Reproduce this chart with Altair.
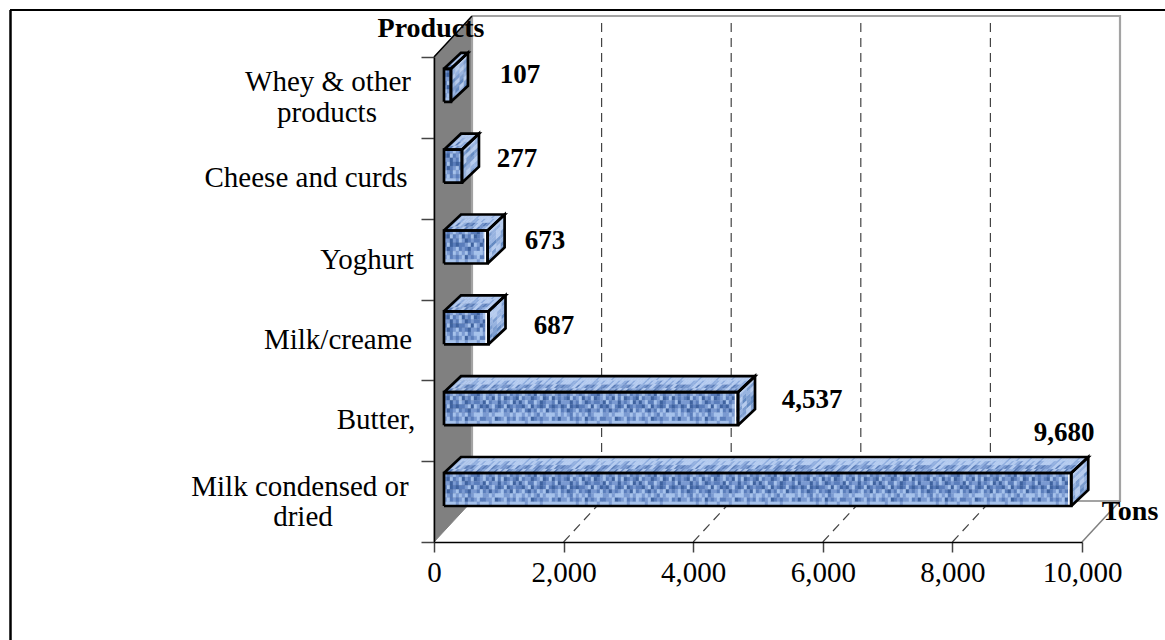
import altair as alt
import pandas as pd

alt.data_transformers.disable_max_rows()

# Chart values, bottom row first
products = ["Milk condensed or dried", "Butter,", "Milk/creame", "Yoghurt",
            "Cheese and curds", "Whey & other products"]
tons = [9680, 4537, 687, 673, 277, 107]
value_labels = ["9,680", "4,537", "687", "673", "277", "107"]
x_ticks = [0, 2000, 4000, 6000, 8000, 10000]

# Layout of the pseudo-3D box, in pixels
LEFT, TOP, W, H = 434, 57, 648, 485
TX = 10000 / W            # tons per pixel
SY = 6 / H                # rows per pixel
WALL_DX, WALL_DY = 38, 41
BAR_GAP, BAR_LIFT, BAR_H = 10, 36, 33
DEPTH_DX, DEPTH_DY = 17, 16
FONT = "Liberation Serif"

# Woven fabric fill: shade index per cell, repeated along each bar
WEAVE = [
    "3234323432213432342334232343231432334323",
    "2142341324123423142412321423312341241323",
    "3313243123223142331323413134224312332413",
    "2412122341431213421241232213413212421231",
    "3123423213324231323423142342132434132342",
    "4324343423444334344433434434343243444343",
    "3423234132342233412342324323412323342313",
    "4444344344434443444443444443444434444444",
]
FRONT = ["#2f5190", "#3f63a0", "#5a7dbb", "#7b9bd2", "#a6c2ec"]
TOP_SHADES = ["#3f63a0", "#587bb7", "#7494cc", "#90aedf", "#b4cbf0"]
SIDE_SHADES = ["#4a6ea8", "#648ac2", "#7c9dd0", "#97b3e0", "#b5cbee"]


def px_x(px):
    return px * TX


def px_y(px):
    return px * SY


def polygon_rows(pid, corners, **extra):
    closed = corners + [corners[0]]
    return [dict(pid=pid, o=i, x=a, y=b, **extra) for i, (a, b) in enumerate(closed)]


def outline(df, stroke, width, dash=None, fill=None):
    kw = dict(stroke=stroke, strokeWidth=width, strokeJoin="miter")
    if dash:
        kw["strokeDash"] = dash
    if fill:
        kw["fill"] = fill
    return alt.Chart(df).mark_line(**kw).encode(
        x=alt.X("x:Q", scale=x_scale, title=None),
        y=alt.Y("y:Q", scale=y_scale, title=None),
        detail="pid:N",
        order="o:Q",
    )


x_scale = alt.Scale(domain=[0, 10000], nice=False, zero=False)
y_scale = alt.Scale(domain=[0, 6], nice=False, zero=False)

wall_x, wall_y = px_x(WALL_DX), px_y(WALL_DY)

# Axes carried by an invisible base layer
base = alt.Chart(pd.DataFrame({"x": x_ticks, "y": x_ticks})).mark_point(opacity=0).encode(
    x=alt.X("x:Q", scale=x_scale, title=None, axis=alt.Axis(
        values=x_ticks, format=",d", grid=False, domainColor="#000000", domainWidth=1.5,
        tickColor="#444444", tickSize=10, tickWidth=1.5, labelFont=FONT, labelFontSize=29,
        labelColor="#000000", labelPadding=6, labelFlush=False, labelOverlap=False, zindex=2)),
    y=alt.Y("y:Q", scale=y_scale, title=None, axis=alt.Axis(
        values=list(range(7)), labels=False, grid=False, domainColor="#000000", domainWidth=1.5,
        tickColor="#444444", tickSize=13, tickWidth=1.5, zindex=2)),
)

layers = [base]

# Side wall
side_wall = polygon_rows("wall", [(0, 0), (wall_x, wall_y), (wall_x, 6 + wall_y), (0, 6)])
layers.append(outline(pd.DataFrame(side_wall), "#808080", 1, fill="#808080"))

# Dashed value grid on the floor and the back wall
grid = []
for t in x_ticks[1:-1]:
    grid += [dict(pid=f"f{t}", o=0, x=t, y=0), dict(pid=f"f{t}", o=1, x=t + wall_x, y=wall_y),
             dict(pid=f"f{t}", o=2, x=t + wall_x, y=6 + wall_y)]
layers.append(outline(pd.DataFrame(grid), "#444444", 1.2, dash=[9, 6]))

# Back wall frame
frame = [dict(pid="b", o=0, x=wall_x, y=6 + wall_y), dict(pid="b", o=1, x=10000 + wall_x, y=6 + wall_y),
         dict(pid="b", o=2, x=10000 + wall_x, y=wall_y), dict(pid="b", o=3, x=wall_x, y=wall_y),
         dict(pid="b", o=4, x=wall_x, y=6 + wall_y)]
layers.append(outline(pd.DataFrame(frame), "#a3a3a3", 2.2))
edge = [dict(pid="e", o=0, x=10000, y=0), dict(pid="e", o=1, x=10000 + wall_x, y=wall_y),
        dict(pid="g", o=0, x=0, y=6), dict(pid="g", o=1, x=wall_x, y=6 + wall_y)]
layers.append(outline(pd.DataFrame(edge[:2]), "#808080", 1.5))
layers.append(outline(pd.DataFrame(edge[2:]), "#000000", 1.5))

# Bars: textured front, top and side faces
front_cells, skew_cells, outlines, glints = [], [], [], []
CELL_W, CELL_H = 3.0, BAR_H / len(WEAVE)
for row, value in enumerate(tons):
    x0 = px_x(BAR_GAP)
    x1 = x0 + value
    y0 = row + px_y(BAR_LIFT)
    y1 = y0 + px_y(BAR_H)
    length_px = value / TX

    n_cols = max(1, int(length_px // CELL_W) + (length_px % CELL_W > 0.01))
    for c in range(n_cols):
        u0, u1 = c * CELL_W, min(c * CELL_W + CELL_W, length_px)
        for r, line in enumerate(WEAVE):
            front_cells.append(dict(
                x=x0 + px_x(u0), x2=x0 + px_x(u1),
                y=y1 - px_y(r * CELL_H), y2=y1 - px_y((r + 1) * CELL_H),
                c=FRONT[int(line[c % len(line)])]))
        for k in range(4):
            t0, t1 = k / 4, (k + 1) / 4
            shade = int(WEAVE[(2 * k + 1) % len(WEAVE)][(c + k * 7) % 40])
            pts = [(x0 + px_x(u0 + DEPTH_DX * t0), y1 + px_y(DEPTH_DY * t0)),
                   (x0 + px_x(u1 + DEPTH_DX * t0), y1 + px_y(DEPTH_DY * t0)),
                   (x0 + px_x(u1 + DEPTH_DX * t1), y1 + px_y(DEPTH_DY * t1)),
                   (x0 + px_x(u0 + DEPTH_DX * t1), y1 + px_y(DEPTH_DY * t1))]
            skew_cells += polygon_rows(f"t{row}-{c}-{k}", pts, c=TOP_SHADES[shade])
    for c in range(4):
        t0, t1 = c / 4, (c + 1) / 4
        for r in range(8):
            v0, v1 = r * CELL_H, (r + 1) * CELL_H
            shade = int(WEAVE[r][(c * 5 + row * 3) % 40])
            pts = [(x1 + px_x(DEPTH_DX * t0), y0 + px_y(v0 + DEPTH_DY * t0)),
                   (x1 + px_x(DEPTH_DX * t1), y0 + px_y(v0 + DEPTH_DY * t1)),
                   (x1 + px_x(DEPTH_DX * t1), y0 + px_y(v1 + DEPTH_DY * t1)),
                   (x1 + px_x(DEPTH_DX * t0), y0 + px_y(v1 + DEPTH_DY * t0))]
            skew_cells += polygon_rows(f"s{row}-{c}-{r}", pts, c=SIDE_SHADES[shade])

    ox, oy = px_x(DEPTH_DX), px_y(DEPTH_DY)
    outlines += polygon_rows(f"a{row}", [(x0, y0), (x1, y0), (x1, y1), (x0, y1)])
    outlines += polygon_rows(f"b{row}", [(x0, y1), (x0 + ox, y1 + oy), (x1 + ox, y1 + oy), (x1, y1)])
    outlines += polygon_rows(f"c{row}", [(x1, y0), (x1 + ox, y0 + oy), (x1 + ox, y1 + oy), (x1, y1)])
    # Pale highlight along the right inner edge of the wider bars
    if length_px > 30:
        inset_x = px_x(2.4)
        glints += [dict(pid=f"w{row}", o=0, x=x1 - inset_x, y=y1),
                   dict(pid=f"w{row}", o=1, x=x1 - inset_x, y=y0)]

layers.append(alt.Chart(pd.DataFrame(front_cells)).mark_rect(strokeWidth=0.4).encode(
    x=alt.X("x:Q", scale=x_scale, title=None), x2="x2:Q",
    y=alt.Y("y:Q", scale=y_scale, title=None), y2="y2:Q",
    fill=alt.Fill("c:N", scale=None, legend=None),
    stroke=alt.Stroke("c:N", scale=None, legend=None),
))
skew_df = pd.DataFrame(skew_cells)
for shade in TOP_SHADES + SIDE_SHADES:
    part = skew_df[skew_df.c == shade]
    if len(part):
        layers.append(outline(part[["pid", "o", "x", "y"]], shade, 0.4, fill=shade))
layers.append(outline(pd.DataFrame(glints), "#ffffff", 1.6))
layers.append(outline(pd.DataFrame(outlines), "#000000", 2.7))


def pixel_text(text, px, py, size, bold=False):
    return alt.Chart(pd.DataFrame({"t": [text]})).mark_text(
        font=FONT, fontSize=size, fontWeight="bold" if bold else "normal",
        color="#000000", align="center", baseline="middle",
    ).encode(x=alt.value(px - LEFT), y=alt.value(py - TOP), text="t:N")


# Category labels, one or two centred lines per row
category_lines = {
    "Milk condensed or dried": [("Milk condensed or", 300, 487), ("dried", 303, 517)],
    "Butter,": [("Butter,", 376, 420)],
    "Milk/creame": [("Milk/creame", 338, 340)],
    "Yoghurt": [("Yoghurt", 367, 260)],
    "Cheese and curds": [("Cheese and curds", 306, 178)],
    "Whey & other products": [("Whey & other", 328, 82), ("products", 327, 113)],
}
for name in products:
    for line, px, py in category_lines[name]:
        layers.append(pixel_text(line, px, py, 29))

# Value labels sit by hand beside their bars
label_pos = [(1064, 433), (812, 400), (554, 326), (545, 241), (517, 159), (520, 75)]
for text, (px, py) in zip(value_labels, label_pos):
    layers.append(pixel_text(text, px, py, 27, bold=True))

layers.append(pixel_text("Products", 431, 29, 28, bold=True))
layers.append(pixel_text("Tons", 1130, 512, 28, bold=True))

# Outer frame, top and left sides only
layers.append(alt.Chart(pd.DataFrame({"k": [0]})).mark_rule(color="#000000", strokeWidth=2.5).encode(
    x=alt.value(10.5 - LEFT), y=alt.value(10 - TOP), y2=alt.value(640 - TOP)))
layers.append(alt.Chart(pd.DataFrame({"k": [0]})).mark_rule(color="#000000", strokeWidth=2).encode(
    x=alt.value(10 - LEFT), x2=alt.value(1165 - LEFT), y=alt.value(10 - TOP)))

chart = alt.layer(*layers).properties(
    width=W, height=H,
    padding={"left": LEFT, "top": TOP, "right": 1165 - LEFT - W, "bottom": 640 - TOP - H},
    autosize=alt.AutoSizeParams(type="none"),
    background="#ffffff",
).configure_view(stroke=None)

chart.save("out.html", embed_options={"renderer": "svg", "actions": False})
